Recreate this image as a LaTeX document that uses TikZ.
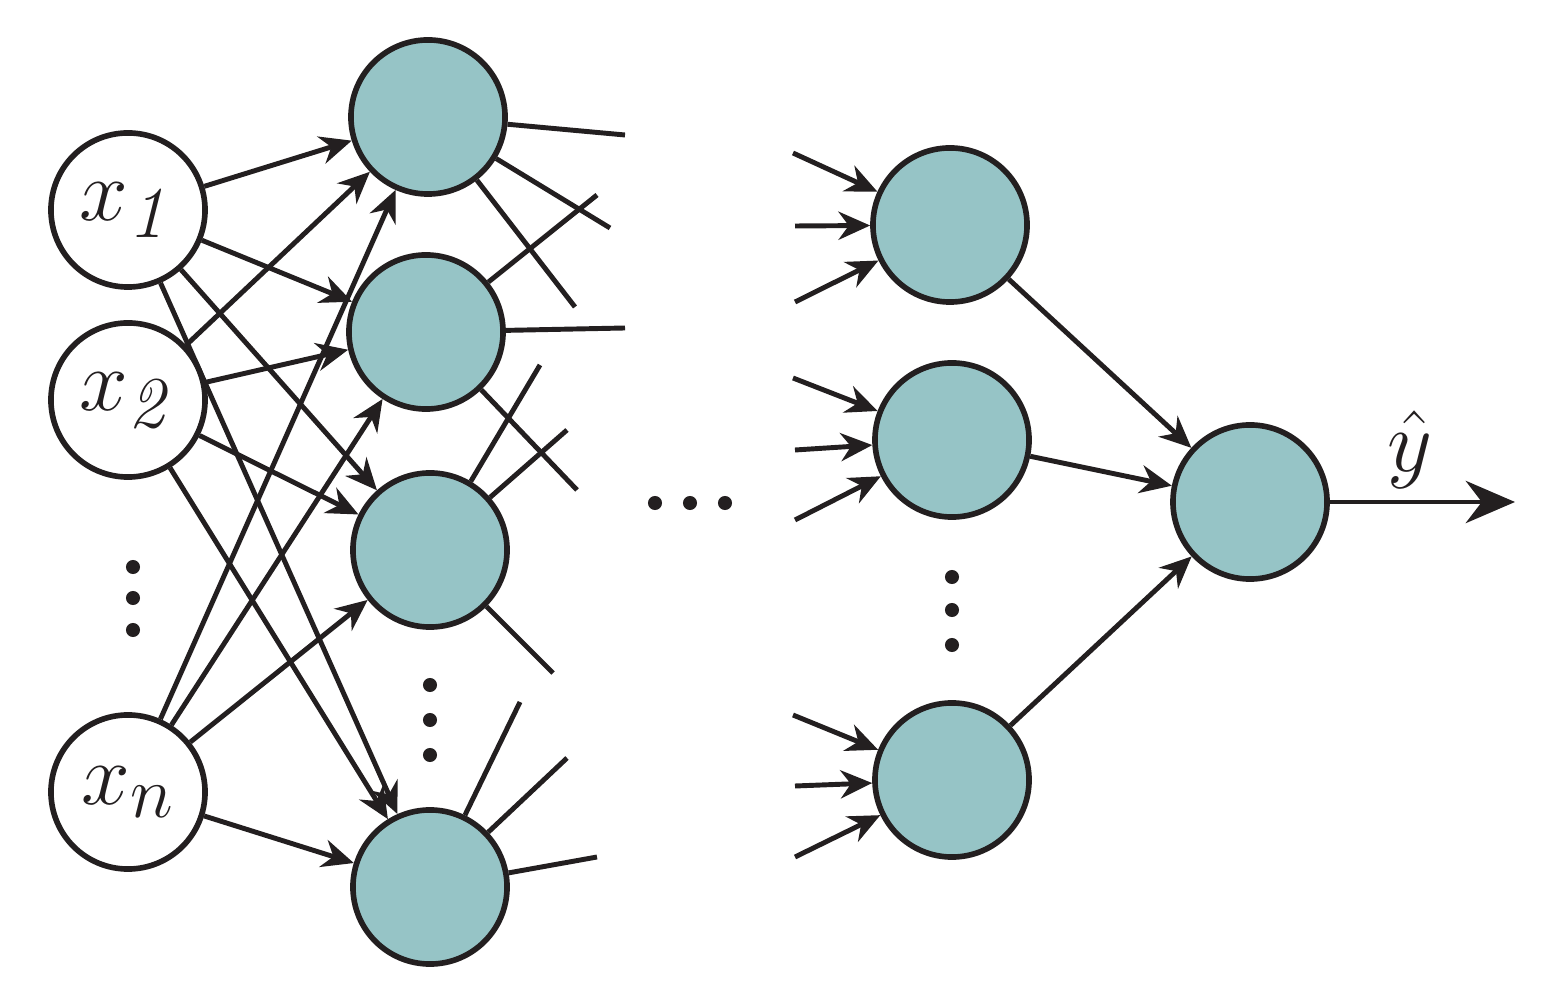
\documentclass[tikz,border=0pt]{standalone}
\usetikzlibrary{arrows.meta}
\definecolor{ink}{HTML}{231F20}
\definecolor{teal0}{HTML}{96C4C6}
\begin{document}
\begin{tikzpicture}[x=0.01cm,y=-0.01cm,color=ink,line width=1.4pt,
  neu/.style={circle,draw=ink,line width=1.6pt,fill=teal0,minimum size=1.54cm,inner sep=0pt},
  inp/.style={circle,draw=ink,line width=1.6pt,fill=white,minimum size=1.54cm,inner sep=0pt,font=\fontsize{30}{36}\selectfont},
  arr/.style={-{Stealth[length=9pt,width=8pt]}},
  dot/.style={circle,fill=ink,inner sep=0pt,minimum size=4pt}]
\path[use as bounding box] (0,0) rectangle (1558,1001);
\node[inp] (x1) at (128,210) {$x_{\mathit{1}}$};
\node[inp] (x2) at (128,400) {$x_{\mathit{2}}$};
\node[inp] (xn) at (128,792) {$x_{n}$};
\node[dot] (d1) at (133,567) {};\node[dot] (d2) at (133,598) {};\node[dot] (d3) at (133,630) {};
\node[neu] (h1) at (428,117) {};
\node[neu] (h2) at (426,332) {};
\node[neu] (h3) at (430,550) {};
\node[neu] (h4) at (430,887) {};
\node[dot] (e1) at (430,685) {};\node[dot] (e2) at (430,720) {};\node[dot] (e3) at (430,755) {};
\node[neu] (g1) at (950,225) {};
\node[neu] (g2) at (952,440) {};
\node[neu] (g3) at (952,780) {};
\node[dot] (f1) at (952,577) {};\node[dot] (f2) at (952,610) {};\node[dot] (f3) at (952,645) {};
\node[neu] (o) at (1250,502) {};
\node[dot] (m1) at (655,503) {};\node[dot] (m2) at (690,503) {};\node[dot] (m3) at (725,503) {};
\coordinate (out) at (1515,502);
\node[font=\fontsize{30}{36}\selectfont] (yh) at (1410,450) {$\hat{y}$};
\foreach \i in {x1,x2,xn}{\foreach \j in {h1,h2,h3,h4}{\draw[arr] (\i) -- (\j);}}
\draw[-{Stealth[length=14pt,width=12pt]}] (o) -- (out);
\foreach \g in {g1,g2,g3}{\draw[arr] (\g) -- (o);}
% outgoing stubs
\draw (h1) -- (625,135); \draw (h1) -- (610,228); \draw (h1) -- (575,307);
\draw (h2) -- (625,328); \draw (h2) -- (597,195); \draw (h2) -- (577,490);
\draw (h3) -- (540,365); \draw (h3) -- (567,430); \draw (h3) -- (553,673);
\draw (h4) -- (520,702); \draw (h4) -- (567,758); \draw (h4) -- (597,857);
% incoming stubs
\draw[arr] (793,153) -- (g1); \draw[arr] (795,226) -- (g1); \draw[arr] (795,302) -- (g1);
\draw[arr] (793,378) -- (g2); \draw[arr] (795,450) -- (g2); \draw[arr] (795,520) -- (g2);
\draw[arr] (793,715) -- (g3); \draw[arr] (795,786) -- (g3); \draw[arr] (795,857) -- (g3);
\end{tikzpicture}
\end{document}
